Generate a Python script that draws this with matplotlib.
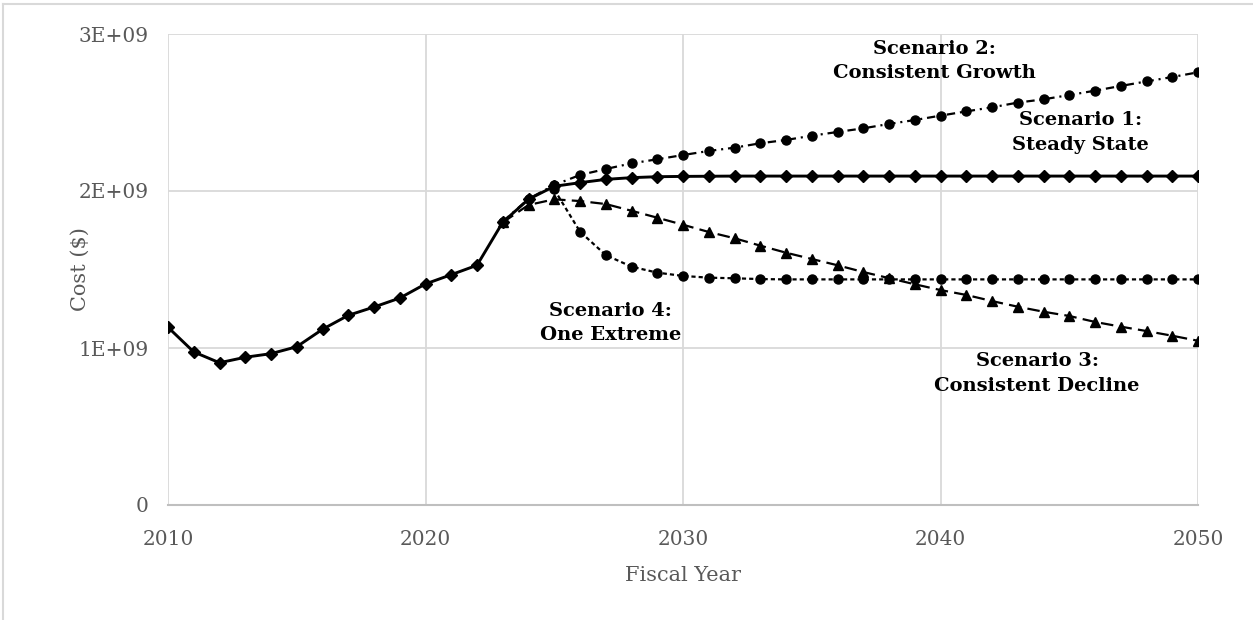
import matplotlib
matplotlib.use("Agg")
import matplotlib.pyplot as plt
from matplotlib.lines import Line2D

# ---------------- data ----------------
years_hist = list(range(2010, 2025))
cost_hist = [1.132e9, 0.975e9, 0.906e9, 0.941e9, 0.964e9, 1.008e9, 1.119e9, 1.208e9,
             1.261e9, 1.318e9, 1.408e9, 1.467e9, 1.527e9, 1.801e9, 1.947e9]

years_s1 = list(range(2025, 2051))
cost_s1 = [2.030e9, 2.053e9, 2.074e9, 2.085e9, 2.091e9, 2.093e9, 2.094e9, 2.095e9,
           2.095e9, 2.095e9, 2.095e9, 2.095e9, 2.095e9, 2.095e9, 2.095e9, 2.095e9,
           2.095e9, 2.095e9, 2.095e9, 2.095e9, 2.095e9, 2.095e9, 2.095e9, 2.095e9,
           2.095e9, 2.095e9]

years_s2 = list(range(2023, 2051))
cost_s2 = [1.805e9, 1.950e9, 2.038e9, 2.102e9, 2.140e9, 2.176e9, 2.202e9, 2.229e9,
           2.255e9, 2.276e9, 2.304e9, 2.325e9, 2.352e9, 2.376e9, 2.399e9, 2.427e9,
           2.452e9, 2.480e9, 2.507e9, 2.533e9, 2.563e9, 2.584e9, 2.611e9, 2.639e9,
           2.669e9, 2.698e9, 2.726e9, 2.756e9]

years_s3 = list(range(2023, 2051))
cost_s3 = [1.800e9, 1.911e9, 1.947e9, 1.936e9, 1.917e9, 1.874e9, 1.830e9, 1.785e9,
           1.739e9, 1.699e9, 1.652e9, 1.607e9, 1.567e9, 1.527e9, 1.484e9, 1.445e9,
           1.406e9, 1.369e9, 1.338e9, 1.299e9, 1.263e9, 1.231e9, 1.204e9, 1.166e9,
           1.136e9, 1.108e9, 1.078e9, 1.046e9]

years_s4 = list(range(2025, 2051))
cost_s4 = [2.010e9, 1.741e9, 1.592e9, 1.518e9, 1.480e9, 1.459e9, 1.448e9, 1.444e9,
           1.439e9, 1.437e9, 1.437e9, 1.437e9, 1.437e9, 1.437e9, 1.437e9, 1.437e9,
           1.437e9, 1.437e9, 1.437e9, 1.437e9, 1.437e9, 1.437e9, 1.437e9, 1.437e9,
           1.437e9, 1.437e9]

x_ticks = [2010, 2020, 2030, 2040, 2050]
y_ticks = [0, 1e9, 2e9, 3e9]
y_tick_labels = ["0", "1E+09", "2E+09", "3E+09"]

labels = ["Scenario 1:\nSteady State", "Scenario 2:\nConsistent Growth",
          "Scenario 3:\nConsistent Decline", "Scenario 4:\nOne Extreme"]
label_pos = [(2045.45, 2.373e9), (2039.75, 2.828e9), (2043.75, 0.838e9), (2027.2, 1.159e9)]

# ---------------- figure ----------------
plt.rcParams['lines.scale_dashes'] = False
W, H = 1253, 620
fig = plt.figure(figsize=(W / 100, H / 100), dpi=100)
ax = fig.add_axes([168 / W, 1 - 505 / H, (1198 - 168) / W, (505 - 34) / H])

grid_c = "#d9d9d9"
text_c = "#595959"
serif = ["DejaVu Serif"]

# chart-area border (partial frame)
fig.add_artist(Line2D([3 / W, 1.0], [1 - 4 / H, 1 - 4 / H], color=grid_c, lw=1.5,
                      transform=fig.transFigure))
fig.add_artist(Line2D([3 / W, 3 / W], [0, 1 - 4 / H], color=grid_c, lw=1.5,
                      transform=fig.transFigure))

ax.set_xlim(2010, 2050)
ax.set_ylim(0, 3e9)
ax.set_xticks(x_ticks)
ax.set_yticks(y_ticks)
ax.set_yticklabels(y_tick_labels)
ax.grid(True, color=grid_c, lw=1.3)
ax.set_axisbelow(True)
for s in ["top", "right", "left"]:
    ax.spines[s].set_visible(False)
ax.spines["bottom"].set_color("#bfbfbf")
ax.spines["bottom"].set_linewidth(1.5)
ax.tick_params(length=0, labelsize=14.5, labelcolor=text_c)
for t in ax.get_xticklabels() + ax.get_yticklabels():
    t.set_fontfamily(serif)
ax.tick_params(axis='y', pad=14)
ax.tick_params(axis='x', pad=18)

ax.set_xlabel("Fiscal Year", fontsize=15, color=text_c, family=serif, labelpad=12)
ax.set_ylabel("Cost ($)", fontsize=15, color=text_c, family=serif)
ax.yaxis.set_label_coords((90 - 168) / (1198 - 168), 0.5)

# series
l3, = ax.plot(years_s3, cost_s3, color="black", lw=1.6, marker="^", markersize=7)
l3.set_dashes([9, 4.5])
l4, = ax.plot(years_s4, cost_s4, color="black", lw=1.6, marker="o", markersize=6.5)
l4.set_dashes([3, 2.2])
l2, = ax.plot(years_s2, cost_s2, color="black", lw=1.6, marker="o", markersize=6.5)
l2.set_dashes([6, 3.5, 1.5, 3.5])
ax.plot(years_hist + years_s1, cost_hist + cost_s1, color="black", lw=2.1,
        marker="D", markersize=6.5)

for txt, (x, y) in zip(labels, label_pos):
    ax.text(x, y, txt, ha="center", va="center", fontsize=14, fontweight="bold",
            family=serif, color="black", linespacing=1.45, clip_on=False)

fig.savefig("out.png", dpi=100)
